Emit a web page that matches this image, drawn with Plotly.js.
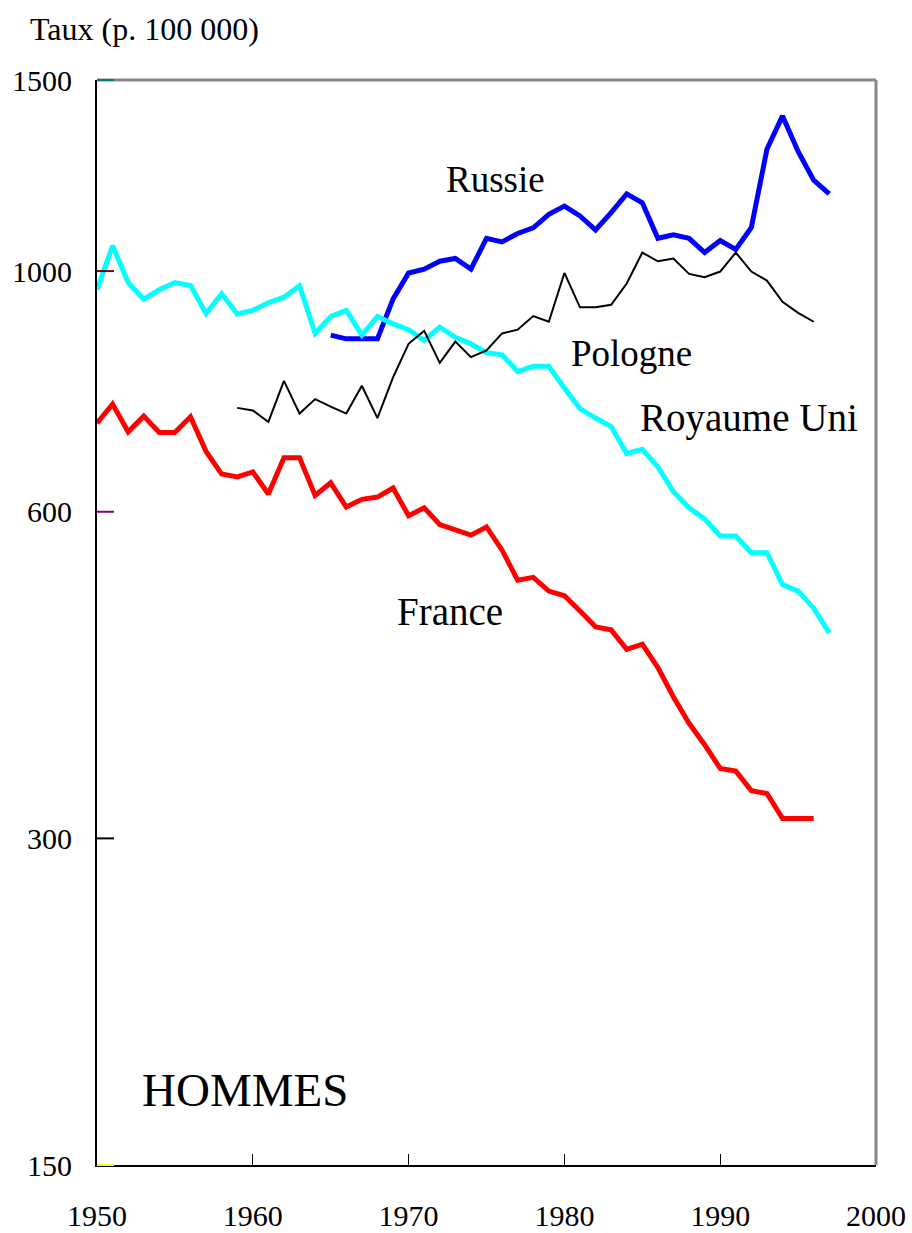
<!DOCTYPE html>
<html>
<head>
<meta charset="utf-8">
<script src="https://cdn.plot.ly/plotly-3.0.1.min.js"></script>
<style>
  html, body { margin: 0; padding: 0; background: #ffffff; }
  #chart { width: 912px; height: 1233px; }
</style>
</head>
<body>
<div id="chart"></div>
<script>
// ---- Data (taux de mortalité, hommes, pour 100 000) ----
const years = [1950,1951,1952,1953,1954,1955,1956,1957,1958,1959,
               1960,1961,1962,1963,1964,1965,1966,1967,1968,1969,
               1970,1971,1972,1973,1974,1975,1976,1977,1978,1979,
               1980,1981,1982,1983,1984,1985,1986,1987,1988,1989,
               1990,1991,1992,1993,1994,1995,1996,1997];

const franceYears = years.slice(0, 47);   // 1950-1996
const franceValues = [724,754,711,735,710,710,734,682,650,646,
                      653,623,673,673,621,638,606,616,619,631,
                      595,605,584,578,571,581,553,519,522,507,
                      502,486,470,467,448,453,431,405,383,366,
                      348,346,332,330,313,313,313];

const ukYears = years.slice(0, 48);       // 1950-1997
const ukValues = [961,1055,976,942,961,976,970,914,953,913,
                  920,935,946,969,876,908,920,873,908,894,
                  883,863,888,869,857,841,837,808,817,817,
                  780,747,732,719,679,685,660,626,605,591,
                  570,570,550,550,514,507,489,464];

const russiaYears = years.slice(15, 48);  // 1965-1997
const russiaValues = [873,866,866,866,942,
                      996,1004,1021,1027,1004,1072,1064,1083,1096,1128,
                      1148,1124,1091,1132,1178,1156,1072,1080,1072,1040,
                      1067,1047,1097,1295,1390,1289,1213,1178];

const polandYears = years.slice(9, 47);   // 1959-1996
const polandValues = [748,
                      744,726,792,739,762,750,739,784,732,798,
                      857,881,823,861,833,845,876,883,909,898,
                      996,926,926,931,974,1040,1021,1027,994,987,
                      999,1040,999,980,937,915,898];

const yTickVals = [150, 300, 600, 1000, 1500];
const yTickColors = ['#ffff00', '#000000', '#800080', '#800000', '#008080'];
const xTickVals = [1950, 1960, 1970, 1980, 1990, 2000];

const seriesLabels = ['Russie', 'Pologne', 'Royaume Uni', 'France'];

// ---- Traces ----
const FONT = 'Liberation Serif, serif';

const traces = [
  { x: russiaYears, y: russiaValues, name: 'Russie', mode: 'lines',
    line: { color: '#0000ff', width: 5, shape: 'linear' } },
  { x: ukYears, y: ukValues, name: 'Royaume Uni', mode: 'lines',
    line: { color: '#00ffff', width: 5 } },
  { x: franceYears, y: franceValues, name: 'France', mode: 'lines',
    line: { color: '#ff0000', width: 5 } },
  { x: polandYears, y: polandValues, name: 'Pologne', mode: 'lines',
    line: { color: '#000000', width: 2 } }
];

const ymin = 150, ymax = 1500;
const logSpan = Math.log10(ymax / ymin);
function paperY(v) { return Math.log10(v / ymin) / logSpan; }

// coloured y tick marks, drawn along the y scale
const tickShapes = yTickVals.map((v, i) => ({
  type: 'line', xref: 'paper', yref: 'paper',
  x0: 0, x1: 17 / 779, y0: paperY(v), y1: paperY(v),
  line: { color: yTickColors[i], width: 2 }
}));

const shapes = [
  // grey top and right border
  { type: 'line', xref: 'paper', yref: 'paper', x0: 0, x1: 1, y0: 1, y1: 1,
    line: { color: '#888888', width: 3 } },
  { type: 'line', xref: 'paper', yref: 'paper', x0: 1, x1: 1, y0: 0, y1: 1,
    line: { color: '#888888', width: 3 } }
].concat(tickShapes);

const labelFont = { family: FONT, size: 37, color: '#000000' };
const labelFontL = { family: FONT, size: 39, color: '#000000' };

const annotations = [
  { text: 'Taux (p. 100 000)', xref: 'paper', yref: 'paper', x: -0.089, y: 1.047,
    xanchor: 'left', yanchor: 'middle', showarrow: false,
    font: { family: FONT, size: 32, color: '#000000' } },
  { text: seriesLabels[0], xref: 'paper', yref: 'paper', x: 0.512, y: 0.908,
    xanchor: 'center', yanchor: 'middle', showarrow: false, font: labelFont },
  { text: seriesLabels[1], xref: 'paper', yref: 'paper', x: 0.6855, y: 0.748,
    xanchor: 'center', yanchor: 'middle', showarrow: false, font: labelFont },
  { text: seriesLabels[2], xref: 'paper', yref: 'paper', x: 0.837, y: 0.6885,
    xanchor: 'center', yanchor: 'middle', showarrow: false, font: labelFontL },
  { text: seriesLabels[3], xref: 'paper', yref: 'paper', x: 0.453, y: 0.5097,
    xanchor: 'center', yanchor: 'middle', showarrow: false, font: labelFontL },
  { text: 'HOMMES', xref: 'paper', yref: 'paper', x: 0.19, y: 0.069,
    xanchor: 'center', yanchor: 'middle', showarrow: false,
    font: { family: FONT, size: 47, color: '#000000' } }
];

const layout = {
  width: 912, height: 1233,
  margin: { l: 97, r: 36, t: 80, b: 68, pad: 0 },
  paper_bgcolor: '#ffffff', plot_bgcolor: '#ffffff',
  showlegend: false,
  font: { family: FONT, color: '#000000' },
  xaxis: {
    range: [1950, 2000], tickmode: 'array', tickvals: xTickVals,
    ticks: 'inside', ticklen: 11, tickwidth: 1, tickcolor: '#000000',
    showline: true, linecolor: '#000000', linewidth: 2, mirror: false,
    showgrid: false, zeroline: false,
    tickfont: { family: FONT, size: 30, color: '#000000' },
    ticklabelstandoff: 23
  },
  yaxis: {
    type: 'log', range: [Math.log10(ymin), Math.log10(ymax)],
    tickmode: 'array', tickvals: yTickVals, ticktext: yTickVals.map(String),
    ticks: '', showline: true, linecolor: '#000000', linewidth: 2, mirror: false,
    showgrid: false, zeroline: false,
    tickfont: { family: FONT, size: 30, color: '#000000' },
    ticklabelstandoff: 17
  },
  shapes: shapes,
  annotations: annotations
};

Plotly.newPlot('chart', traces, layout, { displayModeBar: false, staticPlot: true });
</script>
</body>
</html>
